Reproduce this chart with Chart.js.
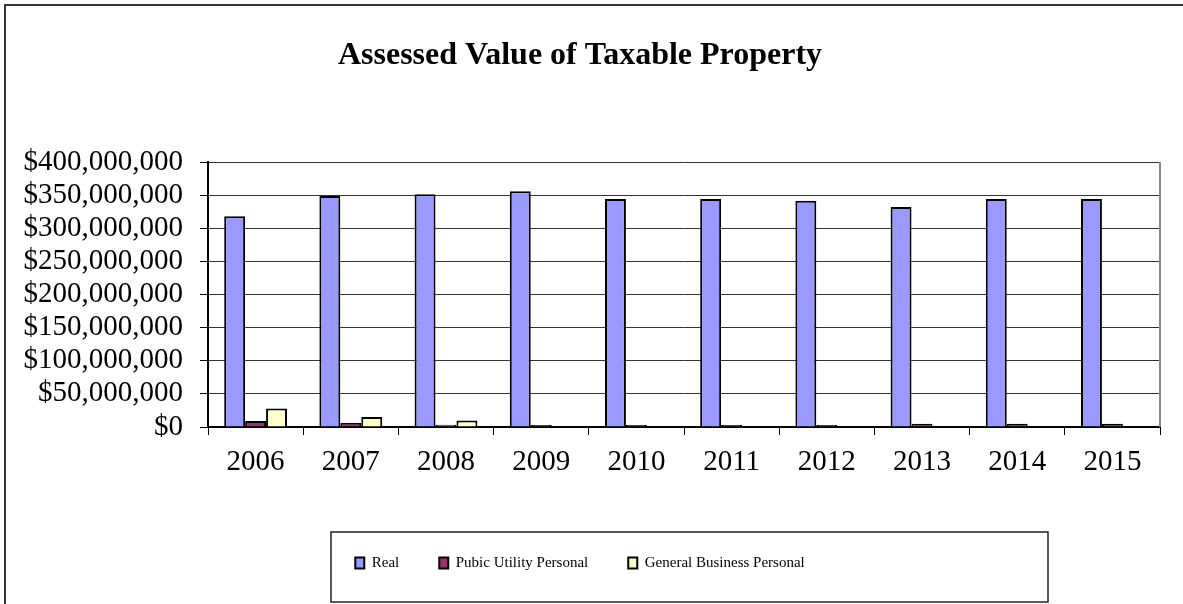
<!DOCTYPE html>
<html>
<head>
<meta charset="utf-8">
<script src="https://cdn.jsdelivr.net/npm/chart.js@4.4.0/dist/chart.umd.min.js"></script>
<style>
  html, body { margin: 0; padding: 0; background: #fff; }
  canvas { display: block; }
</style>
</head>
<body>
<canvas id="taxChart" width="1183" height="604"></canvas>
<script>
const years = ["2006", "2007", "2008", "2009", "2010", "2011", "2012", "2013", "2014", "2015"];
const realValues = [318000000, 348500000, 351500000, 356000000, 344000000, 344000000, 341500000, 332000000, 344000000, 344000000];
const utilityValues = [9000000, 6000000, 3500000, 3000000, 3000000, 3000000, 3000000, 5000000, 5000000, 5000000];
const businessValues = [28000000, 15000000, 10000000, 1000000, 1000000, 0, 0, 0, 0, 0];

const serif = "'Liberation Serif', 'Times New Roman', serif";

// frame around the whole chart, grey right edge of plot, box round the legend
const framePlugin = {
  id: "frames",
  afterDraw(chart) {
    const ctx = chart.ctx;
    const area = chart.chartArea;
    ctx.save();
    ctx.strokeStyle = "#333";
    ctx.lineWidth = 2;
    ctx.beginPath();
    ctx.moveTo(5, chart.height);
    ctx.lineTo(5, 5);
    ctx.lineTo(chart.width, 5);
    ctx.stroke();

    ctx.strokeStyle = "#888";
    ctx.beginPath();
    ctx.moveTo(area.right, area.top);
    ctx.lineTo(area.right, area.bottom);
    ctx.stroke();

    ctx.strokeStyle = "#222";
    ctx.lineWidth = 1.5;
    ctx.strokeRect(331, 532, 717, 70);
    ctx.restore();
  }
};

let chart;

function initChart() {
  const ctx = document.getElementById("taxChart").getContext("2d");
  chart = new Chart(ctx, {
    type: "bar",
    data: {
      labels: years,
      datasets: [
        { label: "Real", data: realValues, backgroundColor: "#9999FF" },
        { label: "Pubic Utility Personal", data: utilityValues, backgroundColor: "#993366" },
        { label: "General Business Personal", data: businessValues, backgroundColor: "#FFFFCC" }
      ]
    },
    options: {
      responsive: false,
      animation: false,
      layout: { padding: { left: 0, right: 23, top: 0, bottom: 23.5 } },
      datasets: {
        bar: {
          borderColor: "#000",
          borderWidth: 2,
          categoryPercentage: 0.66,
          barPercentage: 1.0
        }
      },
      plugins: {
        title: {
          display: true,
          text: "Assessed Value of Taxable Property",
          color: "#000",
          font: { family: serif, size: 32, weight: "bold" },
          padding: { top: 37, bottom: 86.6 }
        },
        legend: {
          position: "bottom",
          labels: {
            color: "#000",
            font: { family: serif, size: 15 },
            boxWidth: 9,
            boxHeight: 11,
            padding: 40
          }
        },
        tooltip: { enabled: false }
      },
      scales: {
        x: {
          afterFit: (scale) => { scale.height = 88.5; },
          grid: {
            offset: true,
            drawOnChartArea: false,
            drawTicks: true,
            tickLength: 8,
            tickColor: "#000"
          },
          border: { color: "#000", width: 2 },
          ticks: {
            color: "#000",
            font: { family: serif, size: 29 },
            padding: 10,
            maxRotation: 0
          }
        },
        y: {
          min: 0,
          max: 400000000,
          afterFit: (scale) => { scale.width = 208; },
          grid: {
            color: "#333",
            lineWidth: 1,
            tickLength: 8,
            tickColor: "#000"
          },
          border: { color: "#000", width: 2 },
          ticks: {
            stepSize: 50000000,
            autoSkip: false,
            color: "#000",
            font: { family: serif, size: 29 },
            padding: 17,
            callback: (v) => "$" + Number(v).toLocaleString("en-US")
          }
        }
      }
    },
    plugins: [framePlugin]
  });
}

window.onload = () => {
  initChart();
};
</script>
</body>
</html>
